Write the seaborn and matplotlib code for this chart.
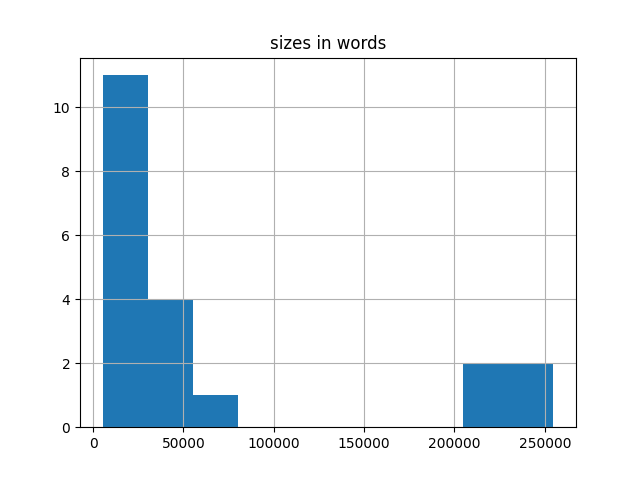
import matplotlib
matplotlib.use("Agg")
import matplotlib.pyplot as plt
import seaborn as sns
import pandas as pd

# word counts per text (10 bins)
titles = ['t01', 't02', 't03', 't04', 't05', 't06', 't07', 't08', 't09', 't10',
          't11', 't12', 't13', 't14', 't15', 't16', 't17', 't18', 't19', 't20']
sizes = [5200, 8100, 9900, 12400, 14700, 16300, 18800, 21500, 23900, 26200, 28700,
         33800, 39500, 44100, 51200,
         62300,
         208600, 221400,
         236900, 254800]

df = pd.DataFrame({'title': titles, 'sizes': sizes})

fig, ax = plt.subplots(figsize=(6.4, 4.8), dpi=100)
sns.histplot(data=df, x='sizes', bins=10, color='#1f77b4', alpha=1,
             linewidth=0, ax=ax)
ax.grid(True)
ax.set_title('sizes in words')
ax.set_xlabel('')
ax.set_ylabel('')
plt.savefig('out.png')
